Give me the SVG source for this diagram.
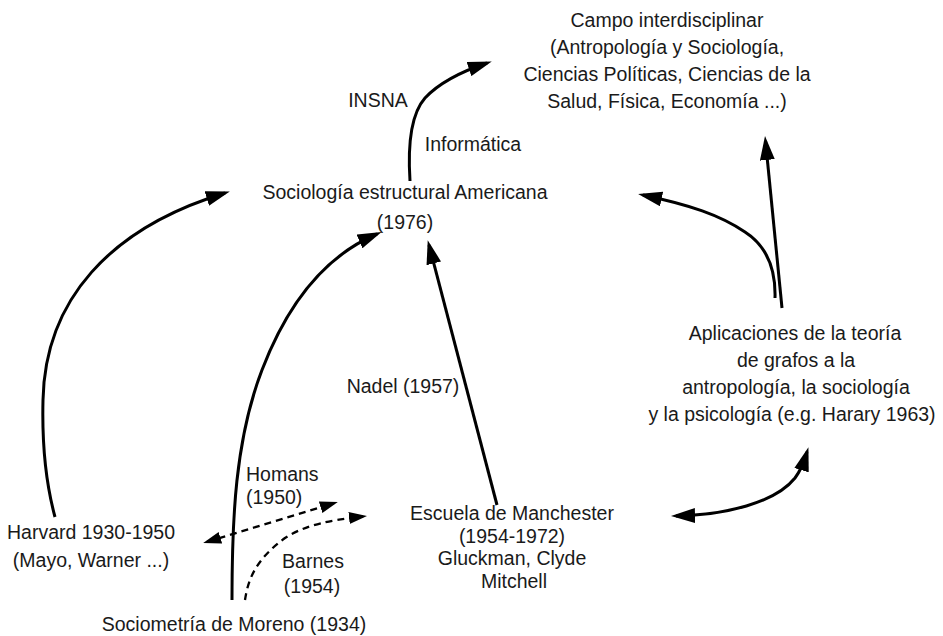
<svg xmlns="http://www.w3.org/2000/svg" width="943" height="636" viewBox="0 0 943 636">
<style>
text { font-family: "Liberation Sans", Arial, sans-serif; font-size: 19.5px; fill: #1a1a1a; }
.c { text-anchor: middle; }
.solid { fill: none; stroke: #000; stroke-width: 3; stroke-linecap: butt; }
.dash { fill: none; stroke: #000; stroke-width: 2.3; stroke-dasharray: 7 5; }
</style>
<defs>
<marker id="ah" viewBox="0 0 24 15" markerWidth="24" markerHeight="15" refX="19" refY="7.5" orient="auto-start-reverse" markerUnits="userSpaceOnUse">
<path d="M0,0 L24,7.5 L0,15 z" fill="#000"/>
</marker>
<marker id="ahs" viewBox="0 0 18 12" markerWidth="18" markerHeight="12" refX="14" refY="6" orient="auto-start-reverse" markerUnits="userSpaceOnUse">
<path d="M0,0 L18,6 L0,12 z" fill="#000"/>
</marker>
</defs>

<g id="connectors">
<path class="solid" d="M410,181 C408,150 410,115 425,98 C440,82 460,72 487,63" marker-end="url(#ah)"/>
<path class="solid" d="M55,517 C45,480 42,440 43,400 C45,300 110,228 225,193" marker-end="url(#ah)"/>
<path class="solid" d="M232,600 C232,520 235,440 262,370 C285,310 320,258 377,234" marker-end="url(#ah)"/>
<path class="solid" d="M497,505 L429,245" marker-end="url(#ah)"/>
<path class="solid" d="M775,298 C776,265 765,245 745,232 C720,215 690,205 643,195" marker-end="url(#ah)"/>
<path class="solid" d="M782,308 L765.5,141" marker-end="url(#ah)"/>
<path class="solid" d="M676,516 C725,515 775,503 795,478 C801,470 804,462 807,452" marker-start="url(#ah)" marker-end="url(#ah)"/>
<path class="dash" d="M207,541.8 L334,503.2" marker-start="url(#ahs)" marker-end="url(#ahs)"/>
<path class="dash" d="M245,600 C248,580 255,560 285,538 C305,525 330,520 363,516.5" marker-end="url(#ahs)"/>
</g>

<g id="campo">
<text class="c" x="667" y="27">Campo interdisciplinar</text>
<text class="c" x="667" y="54">(Antropología y Sociología,</text>
<text class="c" x="667" y="81">Ciencias Políticas, Ciencias de la</text>
<text class="c" x="667" y="108">Salud, Física, Economía ...)</text>
</g>

<g id="label-insna"><text class="c" x="378" y="107">INSNA</text></g>
<g id="label-informatica"><text class="c" x="473" y="151">Informática</text></g>

<g id="sociologia">
<text class="c" x="405" y="199">Sociología estructural Americana</text>
<text class="c" x="405" y="229">(1976)</text>
</g>

<g id="aplicaciones">
<text class="c" x="795" y="340">Aplicaciones de la teoría</text>
<text class="c" x="796" y="367">de grafos a la</text>
<text class="c" x="796" y="394">antropología, la sociología</text>
<text class="c" x="792" y="421">y la psicología (e.g. Harary 1963)</text>
</g>

<g id="label-nadel"><text class="c" x="403" y="393">Nadel (1957)</text></g>

<g id="label-homans">
<text x="246" y="481">Homans</text>
<text x="246" y="504">(1950)</text>
</g>

<g id="escuela">
<text class="c" x="512" y="520">Escuela de Manchester</text>
<text class="c" x="512" y="543">(1954-1972)</text>
<text class="c" x="512" y="565">Gluckman, Clyde</text>
<text class="c" x="514" y="588">Mitchell</text>
</g>

<g id="harvard">
<text class="c" x="91" y="539">Harvard 1930-1950</text>
<text class="c" x="91" y="567">(Mayo, Warner ...)</text>
</g>

<g id="label-barnes">
<text class="c" x="313" y="568">Barnes</text>
<text class="c" x="312" y="593">(1954)</text>
</g>

<g id="moreno"><text class="c" x="234" y="631">Sociometría de Moreno (1934)</text></g>
</svg>
